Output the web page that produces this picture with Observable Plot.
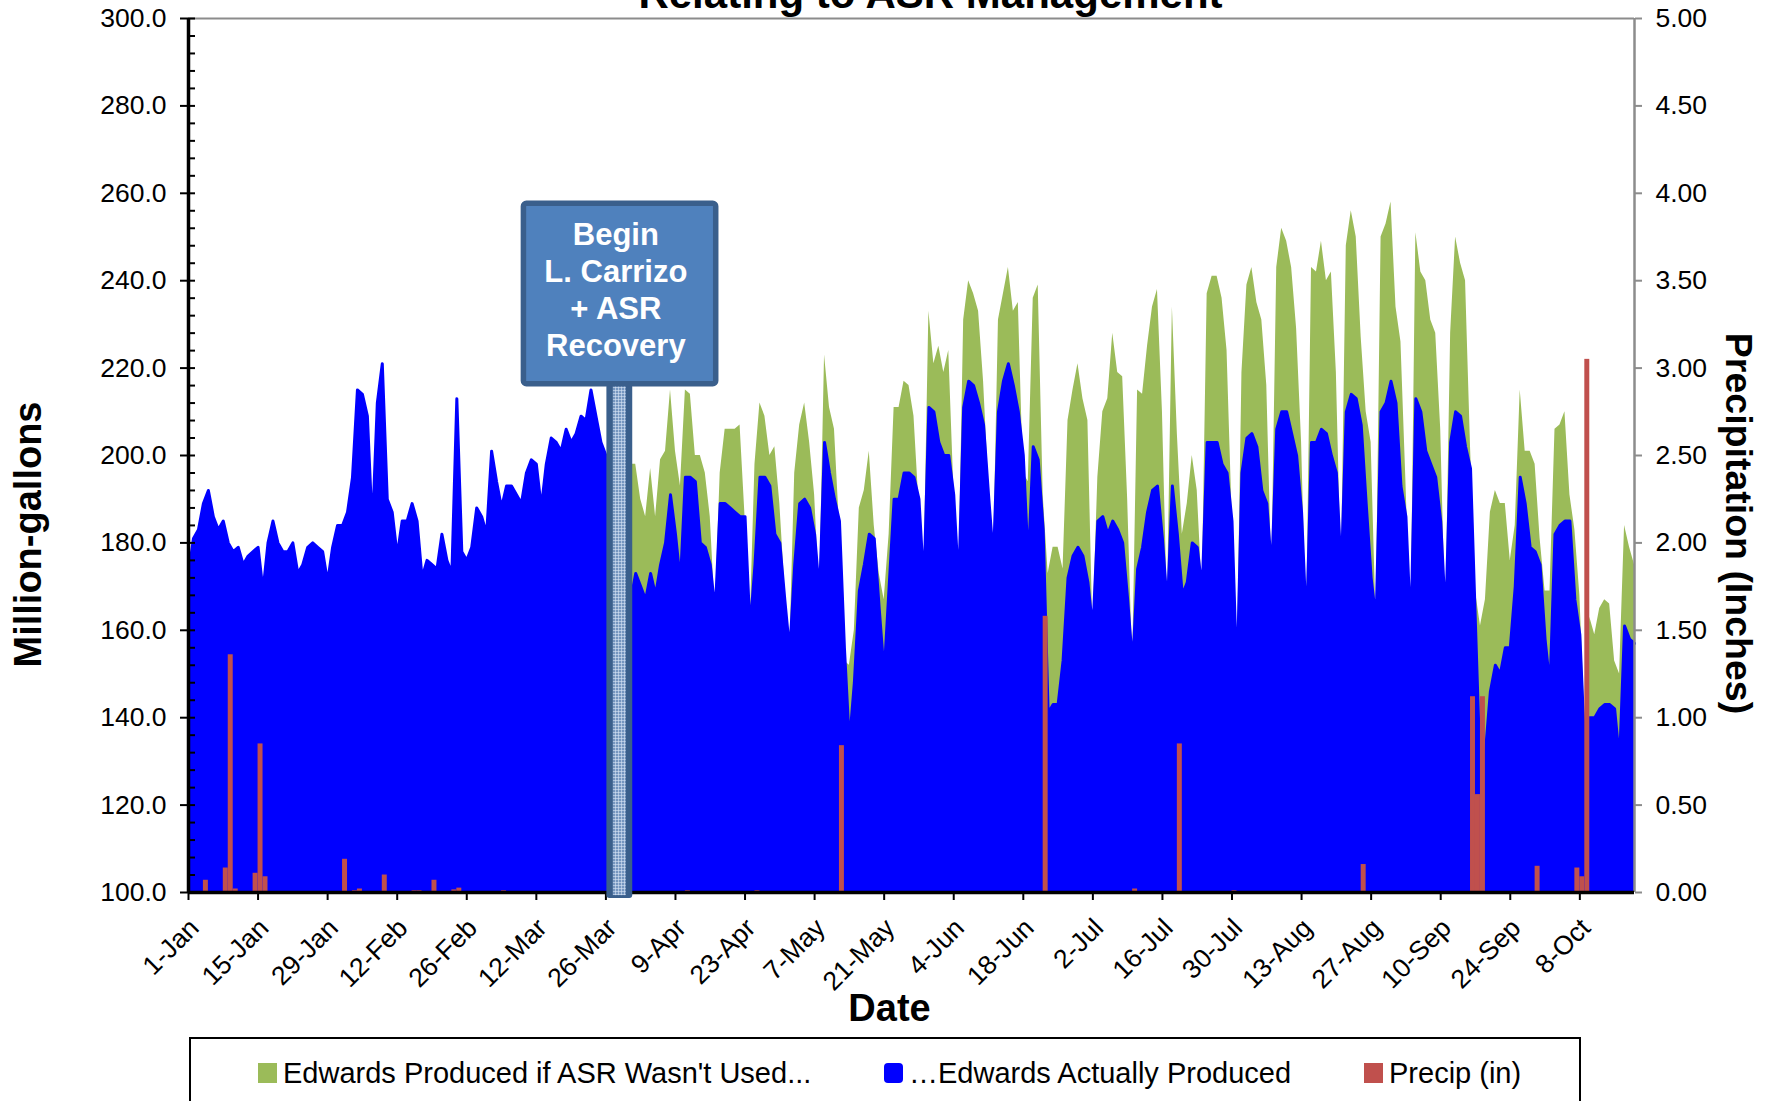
<!DOCTYPE html>
<html>
<head>
<meta charset="utf-8">
<script src="https://cdn.jsdelivr.net/npm/d3@7"></script>
<script src="https://cdn.jsdelivr.net/npm/@observablehq/plot@0.6"></script>
<style>
html,body{margin:0;padding:0;background:#fff;width:1775px;height:1101px;overflow:hidden;font-family:"Liberation Sans",Arial,sans-serif;}
#chart{position:absolute;left:0;top:0;}
#legend{position:absolute;left:189px;top:1037px;width:1392px;height:110px;border:2px solid #000;box-sizing:border-box;background:#fff;}
.item{position:absolute;top:18px;height:32px;line-height:32px;font-size:29px;display:flex;align-items:center;white-space:nowrap;color:#000;}
.sw{width:19px;height:20px;margin-right:6px;flex:none;}
</style>
</head>
<body>
<div id="chart"></div>
<div id="legend"></div>
<script>
// ---------- data ----------
const startDate = "2009-01-01";   // first day of the series (one value per day)
const lastDate = "2009-10-19";    // right end of the date axis

// "...Edwards Actually Produced" (million gallons), one value per day from startDate
const actualProduced = [
  173,181,183,189,192,186,183,185,180,178,
  179,175,177,178,179,169,180,185,180,178,
  178,180,173,175,179,180,179,178,171,179,
  184,184,187,195,215,214,209,183,212,221,
  190,187,177,185,185,189,185,172,176,175,
  174,182,176,173,213,178,176,179,188,186,
  182,201,194,188,193,193,191,189,196,199,
  198,188,198,204,203,201,206,203,205,209,
  208,215,209,203,200,172,187,175,164,167,
  173,170,167,173,168,175,180,191,182,171,
  195,195,194,180,179,175,164,189,189,188,
  187,186,186,160,175,195,195,193,182,180,
  167,155,175,189,190,188,182,168,203,196,
  190,185,156,134,148,169,175,182,181,165,
  150,170,190,190,196,196,195,190,170,211,
  210,203,200,200,191,170,211,217,216,212,
  207,191,176,210,217,221,216,210,200,175,
  202,199,183,141,143,143,153,172,177,179,
  177,171,160,185,186,182,185,183,180,167,
  152,174,179,187,192,193,181,165,193,182,
  168,171,180,179,169,203,203,203,198,196,
  185,148,196,204,205,202,192,189,173,206,
  210,210,205,200,187,160,203,203,206,205,
  200,196,173,210,214,213,207,189,172,162,
  210,212,217,212,193,186,159,213,210,201,
  198,195,185,162,203,210,209,202,197,161,
  126,132,146,152,150,156,156,170,195,189,
  179,178,175,158,147,182,184,185,185,167,
  159,132,140,140,142,143,143,142,130,161,
  158,157
];

// "Edwards Produced if ASR Wasn't Used..." (million gallons), starting on this date
const withoutAsrStart = "2009-03-26";
const producedWithoutASR = [
  200,172,192,185,164,198,
  198,190,186,197,186,199,201,215,201,193,
  215,214,200,200,196,186,164,196,206,206,
  206,207,186,160,198,212,209,200,202,189,
  170,155,196,207,212,203,191,168,223,211,
  206,184,153,152,160,188,192,201,184,173,
  167,182,211,211,217,216,209,189,172,233,
  221,225,219,224,193,170,231,240,237,233,
  217,194,176,231,237,243,233,235,196,194,
  236,239,191,173,179,179,174,208,215,221,
  213,208,160,195,210,213,228,219,218,190,
  152,215,214,225,234,238,210,165,234,205,
  182,189,200,192,169,237,241,241,236,224,
  187,148,219,239,243,235,231,216,173,243,
  252,249,243,229,203,160,243,242,249,240,
  242,219,173,248,256,250,227,210,203,162,
  250,253,258,234,226,194,159,251,242,240,
  231,228,206,162,228,250,244,240,202,169,
  161,167,187,192,189,189,176,184,215,201,
  201,198,181,169,169,206,207,210,191,183,
  168,140,163,159,165,167,166,153,150,184,
  179,175
];

// Precip (in)
const precipDates = [
  "2009-01-04","2009-01-08","2009-01-09","2009-01-10","2009-01-14","2009-01-15","2009-01-16",
  "2009-02-01","2009-02-03","2009-02-04","2009-02-09","2009-02-15","2009-02-16","2009-02-19",
  "2009-02-23","2009-02-24","2009-03-05","2009-04-11","2009-04-25","2009-05-12","2009-06-22",
  "2009-07-10","2009-07-19","2009-07-30","2009-08-25","2009-09-16","2009-09-17","2009-09-18",
  "2009-09-29","2009-10-07","2009-10-08","2009-10-09"
];
const precipInches = [
  0.07,0.14,1.36,0.02,0.11,0.85,0.09,
  0.19,0.01,0.02,0.10,0.01,0.01,0.07,
  0.015,0.025,0.01,0.01,0.01,0.84,1.58,
  0.02,0.85,0.01,0.16,1.12,0.56,1.12,
  0.15,0.14,0.09,3.05
];

// axis tick labels
const xTickLabels = ["1-Jan","15-Jan","29-Jan","12-Feb","26-Feb","12-Mar","26-Mar","9-Apr","23-Apr",
  "7-May","21-May","4-Jun","18-Jun","2-Jul","16-Jul","30-Jul","13-Aug","27-Aug","10-Sep","24-Sep","8-Oct"];
const leftTickLabels = ["100.0","120.0","140.0","160.0","180.0","200.0","220.0","240.0","260.0","280.0","300.0"];
const rightTickLabels = ["0.00","0.50","1.00","1.50","2.00","2.50","3.00","3.50","4.00","4.50","5.00"];

// text
const titleText = "Relating to ASR Management";
const yLabel = "Million-gallons";
const y2Label = "Precipitation (Inches)";
const xLabel = "Date";
const legendItems = [
  {label: "Edwards Produced if ASR Wasn't Used...", color: "#9BBB59"},
  {label: "\u2026Edwards Actually Produced", color: "#0000FF"},
  {label: "Precip (in)", color: "#C0504D"}
];
const calloutText = "Begin\nL. Carrizo\n+ ASR\nRecovery";
// callout placement, in days after startDate and in million-gallons
const callout = {boxFrom: 67.5, boxTo: 106.2, boxBottom: 216.3, boxTop: 257.6, postFrom: 84.2, postTo: 89.4, postBottom: 98.6, textAt: 86, textY: 238.2};

// ---------- build ----------
const DAY = 864e5;
const parseISO = d3.utcParse("%Y-%m-%d");
const t0 = parseISO(startDate);
const tEnd = parseISO(lastDate);
const atDay = k => new Date(+t0 + k * DAY);
const gStart = parseISO(withoutAsrStart);

const actualRows = actualProduced.map((v, i) => ({date: atDay(i), value: v}));
const greenRows = producedWithoutASR.map((v, i) => ({date: new Date(+gStart + i * DAY), value: v}));
const precipRows = precipDates.map((s, i) => ({date: parseISO(s), value: precipInches[i]}));

// precip (0..5 in) shares the 100..300 range of the left axis
const y0 = 100, y1 = 300, pMax = 5;
const pToY = p => y0 + p * (y1 - y0) / pMax;

const parseTick = d3.utcParse("%d-%b-%Y");
const xTicks = xTickLabels.map(s => parseTick(s + "-2009"));
const leftTicks = leftTickLabels.map(Number);
const rightTicks = rightTickLabels.map(s => pToY(+s));
const minorTicks = d3.range(y0, y1 + 0.001, 4).filter(v => !leftTicks.includes(v));

const FONT = '"Liberation Sans", Arial, sans-serif';

const chart = Plot.plot({
  width: 1775,
  height: 1030,
  marginLeft: 188,
  marginRight: 141,
  marginTop: 18,
  marginBottom: 138,
  style: {fontFamily: FONT, fontSize: "26px", background: "transparent", color: "#000", overflow: "visible"},
  x: {type: "utc", domain: [t0, tEnd]},
  y: {domain: [y0, y1]},
  marks: [
    Plot.areaY(greenRows, {x: "date", y1: y0, y2: "value", fill: "#9BBB59"}),
    Plot.areaY(actualRows, {x: "date", y1: y0, y2: "value", fill: "#0000FF"}),
    Plot.line(actualRows, {x: "date", y: "value", stroke: "#0000FF", strokeWidth: 3, strokeLinejoin: "round", strokeLinecap: "round"}),
    Plot.rect(precipRows, {x1: "date", x2: d => new Date(+d.date + DAY), y1: y0, y2: d => pToY(d.value), fill: "#C0504D"}),
    // frame lines
    Plot.ruleY([y1], {stroke: "#8c8c8c", strokeWidth: 2}),
    Plot.ruleX([tEnd], {stroke: "#8c8c8c", strokeWidth: 2.5}),
    // right axis
    Plot.axisY({anchor: "right", ticks: rightTicks, tickFormat: d => rightTickLabels[rightTicks.indexOf(d)],
      tickSize: 7, tickPadding: 14, stroke: "#8c8c8c", strokeWidth: 2, fill: "#000", fontSize: 26.5, label: null}),
    // left axis: minor ticks inside, major ticks crossing
    Plot.axisY({anchor: "left", ticks: minorTicks, tickFormat: () => "", tickSize: 7, dx: 7, strokeWidth: 2, label: null}),
    Plot.axisY({anchor: "left", ticks: leftTicks, tickFormat: d => leftTickLabels[leftTicks.indexOf(d)],
      tickSize: 15, dx: 7, tickPadding: 14, strokeWidth: 2, fontSize: 26.5, label: null}),
    Plot.ruleX([t0], {stroke: "#000", strokeWidth: 3.5}),
    // bottom axis: tick marks, then rotated labels
    Plot.axisX({anchor: "bottom", ticks: xTicks, tickFormat: () => "", tickSize: 8, strokeWidth: 2, label: null}),
    Plot.axisX({anchor: "bottom", ticks: xTicks, tickFormat: d => xTickLabels[xTicks.findIndex(t => +t === +d)],
      tickSize: 0, tickPadding: 31, dx: 6, tickRotate: -45, fontSize: 26.5, label: null}),
    Plot.ruleY([y0], {stroke: "#000", strokeWidth: 3.5}),
    // callout post and box
    Plot.rect([callout], {x1: d => atDay(d.postFrom), x2: d => atDay(d.postTo), y1: "postBottom", y2: "boxBottom", fill: "#3A5F8C", rx: 3}),
    Plot.rect([callout], {x1: d => atDay(d.postFrom), x2: d => atDay(d.postTo), y1: "postBottom", y2: "boxBottom", insetLeft: 6.5, insetRight: 6.5, insetBottom: 3, fill: "#9DBBE3", fillOpacity: 0.6}),
    Plot.rect([callout], {x1: d => atDay(d.postFrom), x2: d => atDay(d.postTo), y1: "postBottom", y2: "boxBottom", insetLeft: 6.5, insetRight: 6.5, insetBottom: 3, fill: "url(#postGrid)"}),
    Plot.rect([callout], {x1: d => atDay(d.boxFrom), x2: d => atDay(d.boxTo), y1: "boxBottom", y2: "boxTop", fill: "#4F81BD", stroke: "#3A5F8C", strokeWidth: 5.5, rx: 3}),
    Plot.text([callout], {x: d => atDay(d.textAt), y: "textY", text: () => calloutText, fill: "#fff", fontWeight: "bold", fontSize: 31, lineHeight: 1.19, fontFamily: FONT}),
    // titles
    Plot.text([titleText], {text: d => d, frameAnchor: "top", lineAnchor: "bottom", dy: -11, dx: 19, fontSize: 42, fontWeight: "bold"}),
    Plot.text([yLabel], {text: d => d, frameAnchor: "left", textAnchor: "middle", rotate: -90, dx: -160, dy: 79, fontSize: 38, fontWeight: "bold"}),
    Plot.text([y2Label], {text: d => d, frameAnchor: "right", textAnchor: "middle", rotate: 90, dx: 103, dy: 68, fontSize: 37.5, fontWeight: "bold"}),
    Plot.text([xLabel], {text: d => d, frameAnchor: "bottom", lineAnchor: "bottom", dx: -22, dy: 128, fontSize: 38, fontWeight: "bold"})
  ]
});

// light grid pattern used inside the callout post
const defs = document.createElementNS("http://www.w3.org/2000/svg", "defs");
defs.innerHTML = '<pattern id="postGrid" width="3" height="3" patternUnits="userSpaceOnUse">' +
  '<path d="M0 0.5H3M0.5 0V3" stroke="#D6E3F3" stroke-width="0.8" stroke-opacity="0.75" fill="none"/></pattern>';
chart.insertBefore(defs, chart.firstChild);
document.getElementById("chart").appendChild(chart);

// legend (HTML, below the SVG)
const legend = d3.select("#legend");
const legendLeft = [67, 693, 1173];
legendItems.forEach((it, i) => {
  const item = legend.append("div").attr("class", "item").style("left", legendLeft[i] + "px");
  item.append("div").attr("class", "sw").style("background", it.color).style("border-radius", i === 1 ? "4px" : "0");
  item.append("span").text(it.label);
});
</script>
</body>
</html>
